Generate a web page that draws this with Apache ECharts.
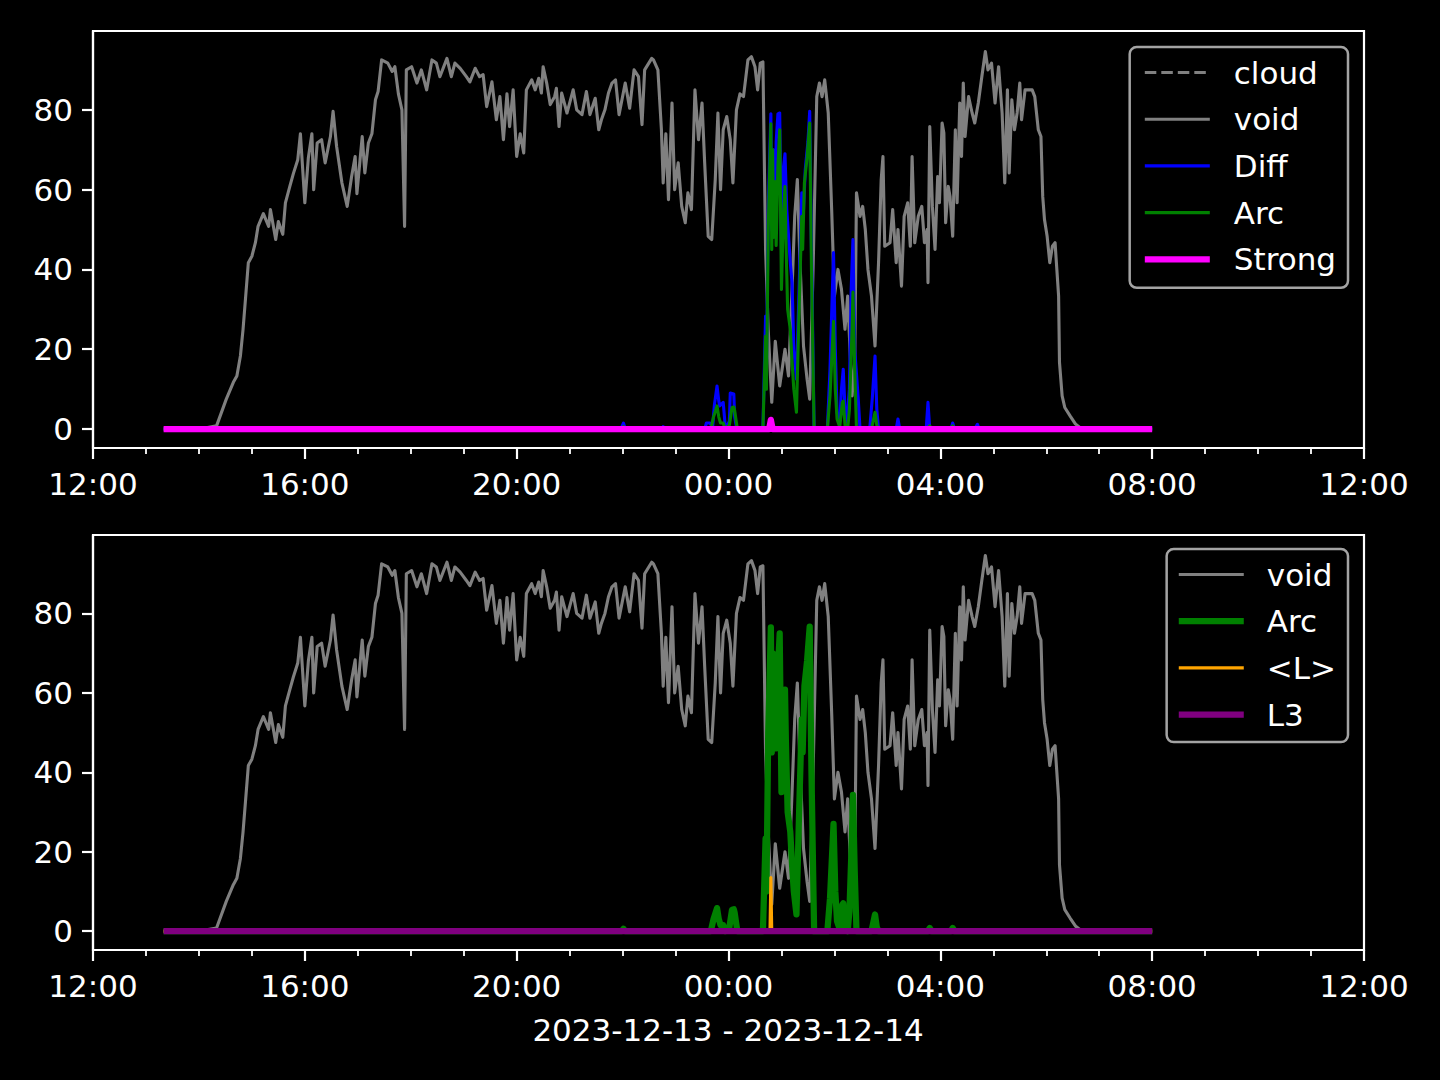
<!DOCTYPE html>
<html>
<head>
<meta charset="utf-8">
<script src="https://cdn.jsdelivr.net/npm/echarts@6/dist/echarts.min.js"></script>
<style>
html,body{margin:0;padding:0;background:#000;}
#c{width:1440px;height:1080px;}
</style>
</head>
<body>
<div id="c"></div>
<script>
// Time values are minutes after 2023-12-13 12:00
const xTicks = [0, 240, 480, 720, 960, 1200, 1440];
const yTicks = [0, 20, 40, 60, 80];
const xLabel = '2023-12-13 - 2023-12-14';

const voidMinutes = [80,121,140,151,159,163,167,170,173,176,180,184,187,193,199,201,207,210,215,218,223,227,232,235,240,244,248,250,254,259,263,269,272,276,282,288,293,297,299,305,308,312,316,320,323,327,334,339,342,346,350,353,355,361,367,372,378,384,389,393,401,406,410,416,423,427,433,438,442,446,452,457,461,465,469,472,476,480,484,488,491,497,501,505,508,510,514,518,523,525,528,531,537,540,544,548,554,559,563,569,573,576,580,584,588,592,596,603,608,613,618,622,625,633,635,640,644,646,649,652,656,659,663,667,671,674,678,682,686,690,693,697,701,705,708,711,714,718,722,725,729,733,737,742,746,750,753,756,759,762,765,769,773,778,784,788,792,795,798,801,805,809,812,816,820,823,826,829,833,837,840,844,848,852,855,860,863,865,869,872,875,878,882,886,890,893,895,897,903,906,910,912,916,919,923,926,928,931,935,939,942,945,946,948,951,954,957,959,962,964,966,969,971,974,977,979,982,984,986,988,992,996,999,1003,1007,1011,1014,1018,1022,1026,1030,1033,1036,1038,1041,1044,1047,1050,1052,1056,1061,1064,1067,1071,1074,1076,1078,1081,1084,1087,1090,1092,1094,1095,1098,1101,1107,1113,1118,1125,1200];
const voidValues = [0,0,0.8,7.5,11.7,13.3,18.3,25,33.3,41.7,43.3,46.7,50.8,54,50.8,55,47.5,52,48.8,56.7,60.8,64,67.5,74,56.7,68,74,60,71.7,72.5,66.7,73.3,79.6,70.8,61.7,55.8,63.3,68.3,59,73.3,64.2,71.7,74,82.5,84.6,92.5,91.7,89.6,90.8,84,80,50.8,90,90.8,86.7,90,85,92.5,91.7,88.3,92.9,88.3,91.7,90.4,88.3,87,90.4,88.3,88.8,80.8,87,77.5,83.3,72.5,84,75.8,85,68.3,74,69.2,85,87.5,85,87.9,84.2,90.8,86.7,81.3,83.3,85.4,75.8,84.2,79.2,81.7,85,80,78.8,84.6,78.8,82.9,75,77.5,80,84.2,86.7,87.5,78.8,86.7,80.4,90,88.3,76.3,90,92.9,92.5,90,75,61.7,74,57.5,81.7,60,66.7,55.8,51.7,59.2,55,85,72.5,81.7,66.7,48.3,47.5,62.5,79.2,60,75,78.3,72.5,61.7,80,84,83.3,92.5,93.3,90.8,85,91.7,92,45,25,6.7,22,10.8,20,13.3,35,53.3,62.5,41.7,20.8,12.5,7.5,41.7,83.3,86.7,83.3,87.5,79.2,54.2,33.3,40,35,25,33.3,8.3,16.7,59.2,53.3,55.8,50,40,33.3,20.8,41.7,62.5,68.3,45.8,46.7,55,41.7,50,35.8,53.3,56.7,45.8,68.3,46.7,53.3,55.8,46.7,50,36.7,75.8,55.8,45,63.3,56.7,76.7,74.2,51.7,60.8,58.3,48.3,75,56.7,81.7,68.3,86.7,73.3,83.3,79.2,76.7,81.7,88.3,94.6,90,91.7,81.7,90.8,79.2,61.7,85,64.2,82.5,75,79.2,86.7,77.5,85,85,85,83.3,75,73.3,58.3,52.5,48.3,41.7,45.8,46.7,40,33.3,16.7,8.3,5.4,3.3,1.3,0.4,0,0];

const diffMinutes = [80,598,601,603,645,646,647,693,695,699,702,704,707,709,710,714,716,718,721,722,726,727,729,731,759,762,763,765,768,769,771,773,774,776,778,780,782,784,786,790,792,794,797,800,803,805,807,810,812,814,817,832,835,839,841,843,846,848,850,852,854,857,859,861,863,867,869,880,883,886,888,890,910,912,914,944,946,948,972,974,976,999,1002,1004,1200];
const diffValues = [0,0,1.5,0,0,0.6,0,0,1.5,1.5,0.5,6,10.8,7,5.8,6.7,1.5,0.5,2,9,8.8,3,0.5,0,0,28.3,15,55,79,50,70,52,72,79,79.2,45,65,69,55,41.7,36.7,20,12.5,35,59.2,55,65,72,79.6,45,0,0,15,44.2,20,4.2,2,10,15,5,1.7,10,35,47.5,20,7.5,0,0,8,18.3,5,0,0,2.5,0,0,6.7,0,0,1.5,0,0,1.2,0,0];

const arcMinutes = [80,599,601,603,700,703,707,709,711,714,716,721,724,726,727,730,759,762,763,765,768,769,770,771,773,774,776,778,780,782,784,785,787,790,792,794,797,800,803,804,806,809,812,814,817,832,835,839,841,843,846,849,850,852,855,857,860,861,863,865,882,886,888,890,946,948,950,972,974,976,1200];
const arcValues = [0,0,0.6,0,0,3,5.8,3,1.5,1.5,0,1,5.4,5.5,4.6,0,0,23.3,10,50,76.5,45,70,48,62,46,66,75,35,52,60.8,48,30,25,16.7,10,4.2,30,53.3,45,61.7,68,76.7,40,0,0,8.3,27,10,2.5,0.5,6.7,7,1,0,5,25,34.3,15,0,0,4.2,1,0,0,0.8,0,0,0.8,0,0];

const strongMinutes = [80,766,768,770,1200];
const strongValues = [0,0,2.3,0,0];

const lMinutes = [80,767,768,769,1200];
const lValues = [0,0,13.5,0,0];

const l3Minutes = [80,1200];
const l3Values = [0,0];

const cloudMinutes = [];
const cloudValues = [];

const FONT = 'DejaVu Sans';
const FS = 31;
const LW = 3.1;
const LW2 = 6.25;
const DASH = [11.5, 5];

function pairs(m, v) { return m.map((t, i) => [t, v[i]]); }
function fmtTime(v) {
  const tot = (12 * 60 + v) % 1440;
  const h = Math.floor(tot / 60), m = tot % 60;
  return String(h).padStart(2, '0') + ':' + String(m).padStart(2, '0');
}

const chart = echarts.init(document.getElementById('c'), null, {renderer: 'svg', width: 1440, height: 1080});

function xAxis(gi) {
  return {
    type: 'value', gridIndex: gi, min: 0, max: 1440, interval: 240,
    axisLine: {show: true, onZero: false, lineStyle: {color: '#fff', width: 2.2}},
    axisTick: {show: true, length: 11, lineStyle: {color: '#fff', width: 2.2}},
    minorTick: {show: true, splitNumber: 4, length: 6, lineStyle: {color: '#fff', width: 1.8}},
    axisLabel: {color: '#fff', fontSize: FS, fontFamily: FONT, margin: 20,
      showMinLabel: true, showMaxLabel: true, formatter: fmtTime},
    splitLine: {show: false}, minorSplitLine: {show: false}
  };
}
function yAxis(gi) {
  return {
    type: 'value', gridIndex: gi, min: -4.75, max: 99.75,
    axisLine: {show: true, onZero: false, lineStyle: {color: '#fff', width: 2.2}},
    axisTick: {show: true, length: 11, customValues: yTicks, lineStyle: {color: '#fff', width: 2.2}},
    axisLabel: {color: '#fff', fontSize: FS, fontFamily: FONT, margin: 20, customValues: yTicks},
    splitLine: {show: false}
  };
}
function line(name, xi, m, v, color, width, extra) {
  return Object.assign({
    type: 'line', name: name, xAxisIndex: xi, yAxisIndex: xi,
    data: pairs(m, v), symbol: 'none', showSymbol: false, smooth: false,
    animation: false, silent: true, clip: true,
    lineStyle: {color: color, width: width, join: 'round'},
    itemStyle: {color: color}
  }, extra || {});
}
function item(name, color, width, type) {
  return {name: name, lineStyle: {color: color, width: width, type: type || 'solid', opacity: 1},
    itemStyle: {opacity: 0}};
}
function legend(items, top, pad, textPad) {
  return {
    data: items, orient: 'vertical', right: 92, top: top,
    padding: pad, itemWidth: 65, itemHeight: 14, itemGap: 15.7,
    backgroundColor: '#000', borderColor: '#a3a3a3', borderWidth: 2.5, borderRadius: 7,
    textStyle: {color: '#fff', fontSize: FS, fontFamily: FONT, lineHeight: 31, padding: [0, 0, 0, textPad]},
    itemStyle: {opacity: 0},
    selectedMode: false,
    formatter: n => n.replace('_2', '')
  };
}

chart.setOption({
  backgroundColor: '#000',
  animation: false,
  textStyle: {fontFamily: FONT},
  title: {text: xLabel, left: 728, top: 1014, textAlign: 'center', padding: 0,
    textStyle: {color: '#fff', fontSize: FS, fontFamily: FONT, fontWeight: 'normal'}},
  grid: [
    {left: 93, right: 76, top: 31, height: 417, show: true, borderColor: '#fff', borderWidth: 2.2, backgroundColor: '#000'},
    {left: 93, right: 76, top: 535, height: 415, show: true, borderColor: '#fff', borderWidth: 2.2, backgroundColor: '#000'}
  ],
  xAxis: [xAxis(0), xAxis(1)],
  yAxis: [yAxis(0), yAxis(1)],
  legend: [
    legend([
      item('cloud', '#808080', LW, DASH),
      item('void', '#808080', LW),
      item('Diff', '#0000ff', LW),
      item('Arc', '#008000', LW),
      item('Strong', '#ff00ff', LW2)
    ], 47, [10, 12, 13, 12], 19),
    legend([
      item('void_2', '#808080', LW),
      item('Arc_2', '#008000', LW2),
      item('<L>', '#ffa500', LW),
      item('L3', '#800080', LW2)
    ], 549, [10, 12, 12, 9], 18)
  ],
  series: [
    line('cloud', 0, cloudMinutes, cloudValues, '#808080', LW, {lineStyle: {color: '#808080', width: LW, type: DASH}}),
    line('void', 0, voidMinutes, voidValues, '#808080', LW),
    line('Diff', 0, diffMinutes, diffValues, '#0000ff', LW),
    line('Arc', 0, arcMinutes, arcValues, '#008000', LW),
    line('Strong', 0, strongMinutes, strongValues, '#ff00ff', LW2),
    line('void_2', 1, voidMinutes, voidValues, '#808080', LW),
    line('Arc_2', 1, arcMinutes, arcValues, '#008000', LW2),
    line('<L>', 1, lMinutes, lValues, '#ffa500', LW),
    line('L3', 1, l3Minutes, l3Values, '#800080', LW2)
  ]
});
</script>
</body>
</html>
